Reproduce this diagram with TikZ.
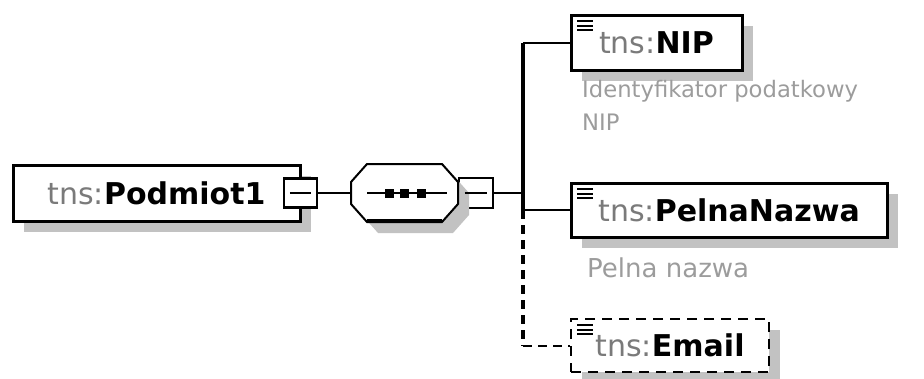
\documentclass[tikz,border=0pt]{standalone}
\usepackage{fontspec}
\setmainfont{DejaVu Sans}
\usetikzlibrary{shadows,calc}
\definecolor{tnsgray}{HTML}{7A7A7A}
\definecolor{notegray}{HTML}{9C9C9C}
\definecolor{shadowgray}{HTML}{C2C2C2}
\newcommand{\tns}[1]{{\color{tnsgray}tns:}\textbf{#1}}
\begin{document}
\begin{tikzpicture}[x=1pt,y=-1pt,
  font=\fontsize{30}{36}\selectfont,
  boxshadow/.style={drop shadow={shadow xshift=11pt,shadow yshift=-11pt,fill=shadowgray,opacity=1}},
  elembox/.style={draw,line width=3pt,fill=white,inner sep=0pt,boxshadow},
  optbox/.style={elembox,line width=2.5pt,dash pattern=on 10pt off 7pt},
  minusbox/.style={draw,line width=2.5pt,fill=white,inner sep=0pt,minimum width=33pt,minimum height=29pt},
  seqbox/.style={inner sep=0pt,outer sep=0pt,minimum width=107pt,minimum height=58pt},
  note/.style={font=\fontsize{22.7}{33}\selectfont,text=notegray,inner sep=0pt,align=left},
  link/.style={line width=2pt},
  optlink/.style={link,dash pattern=on 9pt off 6pt},
  spine/.style={line width=3.5pt},
  optspine/.style={spine,dash pattern=on 9pt off 6pt}
]
  \useasboundingbox (0,0) rectangle (924,378);

  % root element and its sequence
  \node[elembox,minimum width=287pt,minimum height=56pt] (podmiot) at (156.5,193) {\tns{Podmiot1}};
  \node[minusbox] (pminus) at (300.5,193) {};
  \node[seqbox] (seq) at (404.5,193) {};
  \node[minusbox,minimum width=34pt,minimum height=30pt] (sminus) at (476,193) {};
  \coordinate (fork) at (523,193);

  \path[draw,line width=2pt,fill=white,boxshadow]
    ($(seq.north west)+(16,0)$) -- ($(seq.north east)+(-16,0)$) -- ($(seq.north east)+(0,18)$)
    -- ($(seq.south east)+(0,-18)$) -- ($(seq.south east)+(-16,0)$) -- ($(seq.south west)+(16,0)$)
    -- ($(seq.south west)+(0,-18)$) -- ($(seq.north west)+(0,18)$) -- cycle;
  \draw[line width=4pt] ($(seq.south west)+(16,-1)$) -- ($(seq.south east)+(-16,-1)$);
  \draw[line width=1.5pt] ($(seq.center)+(-37.5,0)$) -- ($(seq.center)+(42.5,0)$);
  \foreach \dx in {-15,0,17}
    \fill ($(seq.center)+(\dx-4.5,-4.5)$) rectangle +(9,9);
  \foreach \m in {pminus,sminus}
    \draw[link] ($(\m.west)+(7,0)$) -- ($(\m.east)+(-7,0)$);

  % child elements
  \node[elembox,minimum width=171pt,minimum height=55pt] (nip) at (656.5,42.5) {\tns{NIP}};
  \node[elembox,minimum width=316pt,minimum height=54pt] (pelna) at (729,210) {\tns{PelnaNazwa}};
  \node[optbox,minimum width=198pt,minimum height=53pt] (email) at (670,345.5) {\tns{Email}};
  \foreach \b in {nip,pelna,email}
    \foreach \dy in {7.5,12,16.5}
      \draw[line width=2pt] ($(\b.north west)+(7.5,\dy)$) -- +(16,0);

  \node[note,anchor=north west] (nipnote) at (582,80) {Identyfikator podatkowy\\NIP};
  \node[note,font=\fontsize{26}{30}\selectfont,anchor=base west] (pelnanote) at (587,277) {Pelna nazwa};

  % connectors
  \draw[link] (pminus) -- (seq);
  \draw[link] (sminus) -- (fork);
  \draw[spine] (fork |- nip) -- (fork |- pelna);
  \draw[link] (fork |- nip) -- (nip);
  \draw[link] (fork |- pelna) -- (pelna);
  \draw[optspine] (fork |- pelna) -- (fork |- email);
  \draw[optlink] (fork |- email) -- (email);
\end{tikzpicture}
\end{document}
